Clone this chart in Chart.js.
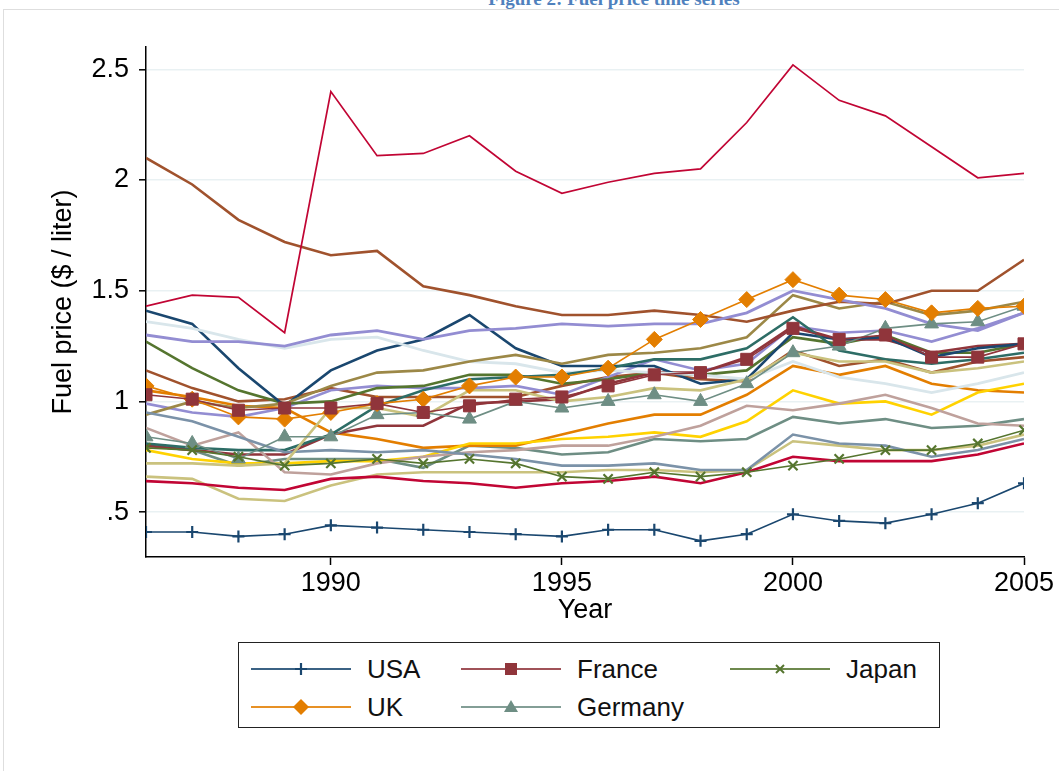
<!DOCTYPE html>
<html>
<head>
<meta charset="utf-8">
<script src="https://cdn.jsdelivr.net/npm/chart.js@4/dist/chart.umd.min.js"></script>
<style>
  html, body { margin: 0; padding: 0; background: #fff; }
  body { width: 1059px; height: 771px; position: relative; overflow: hidden; font-family: "Liberation Sans", Arial, sans-serif; }
  #frame { position: absolute; left: 3px; top: 9px; width: 1070px; height: 780px; border: 1px solid #dedede; }
  #fig-title { position: absolute; left: 0; width: 1228px; top: -11px; text-align: center; font: bold 19px "Liberation Serif", serif; color: #4f81bd; line-height: 19px; }
  #c { position: absolute; left: 0; top: 0; }
  #legend { position: absolute; left: 238px; top: 642px; width: 700px; height: 84px; border: 1.5px solid #222; }
  .item { position: absolute; height: 30px; }
  .item svg { position: absolute; left: 0; top: 3px; }
  .item span { position: absolute; top: 0; font-size: 26px; line-height: 30px; color: #111; white-space: nowrap; }
</style>
</head>
<body>
<div id="frame"></div>
<div id="fig-title">Figure 2: Fuel price time series</div>
<canvas id="c" width="1059" height="640"></canvas>
<div id="legend"></div>
<script>
// years and y-axis ticks
const years = [1986, 1987, 1988, 1989, 1990, 1991, 1992, 1993, 1994, 1995,
               1996, 1997, 1998, 1999, 2000, 2001, 2002, 2003, 2004, 2005];
const yearTicks = [1990, 1995, 2000, 2005];
const priceTicks = [0.5, 1, 1.5, 2, 2.5];

// labelled countries ($ / liter)
const usa     = [0.41,0.41,0.39,0.40,0.44,0.43,0.42,0.41,0.40,0.39,0.42,0.42,0.37,0.40,0.49,0.46,0.45,0.49,0.54,0.63];
const france  = [1.03,1.01,0.96,0.97,0.97,0.99,0.95,0.98,1.01,1.02,1.07,1.12,1.13,1.19,1.33,1.28,1.30,1.20,1.20,1.26];
const japan   = [0.79,0.78,0.75,0.71,0.72,0.74,0.72,0.74,0.72,0.66,0.65,0.68,0.66,0.68,0.71,0.74,0.78,0.78,0.81,0.87];
const uk      = [1.07,1.01,0.93,0.92,0.95,0.99,1.01,1.07,1.11,1.11,1.15,1.28,1.37,1.46,1.55,1.48,1.46,1.40,1.42,1.43];
const germany = [0.84,0.81,0.74,0.84,0.84,0.94,0.95,0.92,1.00,0.97,1.00,1.03,1.00,1.08,1.22,1.25,1.33,1.35,1.36,1.43];

// other countries (no legend entry), named by line colour
const cranberryHigh = [1.43,1.48,1.47,1.31,2.40,2.11,2.12,2.20,2.04,1.94,1.99,2.03,2.05,2.26,2.52,2.36,2.29,2.15,2.01,2.03];
const lavenderHigh  = [1.30,1.27,1.27,1.25,1.30,1.32,1.28,1.32,1.33,1.35,1.34,1.35,1.35,1.40,1.50,1.46,1.42,1.35,1.32,1.40];
const khakiJump     = [0.72,0.72,0.71,0.72,0.97,0.97,0.93,1.05,1.05,1.00,1.02,1.06,1.05,1.10,1.22,1.18,1.18,1.13,1.15,1.18];
const siennaHigh    = [2.10,1.98,1.82,1.72,1.66,1.68,1.52,1.48,1.43,1.39,1.39,1.41,1.39,1.36,1.41,1.45,1.44,1.50,1.50,1.64];
const emidblue      = [0.95,0.91,0.84,0.77,0.78,0.77,0.78,0.76,0.74,0.71,0.71,0.72,0.69,0.69,0.85,0.81,0.80,0.75,0.78,0.83];
const emerald       = [0.81,0.79,0.78,0.78,0.85,0.98,1.05,1.10,1.11,1.12,1.15,1.19,1.19,1.24,1.38,1.23,1.19,1.17,1.19,1.22];
const brown         = [0.94,1.00,0.97,0.99,1.07,1.13,1.14,1.18,1.21,1.17,1.21,1.22,1.24,1.29,1.48,1.42,1.45,1.39,1.41,1.45];
const erose         = [0.88,0.80,0.86,0.68,0.67,0.72,0.75,0.77,0.78,0.80,0.80,0.84,0.89,0.98,0.96,0.99,1.03,0.97,0.90,0.89];
const gold          = [0.78,0.74,0.72,0.72,0.73,0.73,0.75,0.81,0.81,0.83,0.84,0.86,0.84,0.91,1.05,0.99,1.00,0.94,1.04,1.08];
const bluishgray    = [1.36,1.33,1.28,1.24,1.28,1.29,1.23,1.18,1.17,1.13,1.14,1.13,1.12,1.10,1.18,1.11,1.08,1.04,1.08,1.13];
const navy2         = [1.41,1.35,1.15,0.98,1.14,1.23,1.28,1.39,1.24,1.16,1.16,1.16,1.08,1.10,1.31,1.28,1.29,1.20,1.24,1.26];
const maroon2       = [0.80,0.78,0.76,0.76,0.85,0.89,0.89,0.99,1.00,1.01,1.08,1.13,1.13,1.20,1.34,1.28,1.28,1.22,1.25,1.26];
const green2        = [1.27,1.15,1.05,0.99,1.00,1.06,1.07,1.12,1.12,1.08,1.10,1.13,1.12,1.14,1.29,1.26,1.30,1.22,1.22,1.26];
const orange2       = [1.05,1.02,0.98,0.97,0.86,0.83,0.79,0.80,0.80,0.85,0.90,0.94,0.94,1.03,1.16,1.12,1.16,1.08,1.05,1.04];
const teal2         = [0.80,0.78,0.71,0.74,0.74,0.74,0.70,0.80,0.79,0.76,0.77,0.83,0.82,0.83,0.93,0.90,0.92,0.88,0.89,0.92];
const cranberryLow  = [0.64,0.63,0.61,0.60,0.65,0.66,0.64,0.63,0.61,0.63,0.64,0.66,0.63,0.68,0.75,0.73,0.73,0.73,0.76,0.81];
const lavender2     = [0.99,0.95,0.93,0.97,1.05,1.07,1.06,1.06,1.07,1.03,1.11,1.19,1.14,1.17,1.34,1.31,1.32,1.27,1.33,1.40];
const khakiLow      = [0.66,0.65,0.56,0.55,0.62,0.67,0.68,0.68,0.68,0.68,0.69,0.69,0.68,0.69,0.82,0.80,0.78,0.78,0.80,0.85];
const sienna2       = [1.14,1.06,1.00,1.01,1.06,1.02,1.02,1.02,1.02,1.07,1.11,1.13,1.10,1.09,1.23,1.16,1.19,1.13,1.18,1.20];

// stata s2color palette
const C = {
  navy: "#1a476f", maroon: "#90353b", forest: "#55752f", dkorange: "#e37e00",
  teal: "#6e8e84", cranberry: "#c10534", lavender: "#938dd2", khaki: "#cac27e",
  sienna: "#a0522d", emidblue: "#7b92a8", emerald: "#2d6d66", brown: "#9c8847",
  erose: "#bfa19c", gold: "#ffd200", bluishgray: "#d9e6eb"
};

function series(label, vals, color, width, marker, radius) {
  return {
    label: label,
    data: years.map((yr, i) => ({ x: yr, y: vals[i] })),
    borderColor: color,
    backgroundColor: color,
    borderWidth: width,
    tension: 0,
    pointStyle: marker || "circle",
    pointRadius: marker ? radius : 0,
    pointBorderColor: color,
    pointBackgroundColor: color,
    pointBorderWidth: (marker === "cross" || marker === "crossRot") ? 2.2 : 1
  };
}

const datasets = [
  series("USA", usa, C.navy, 1.6, "cross", 6),
  series("France", france, C.maroon, 1.6, "rect", 8.5),
  series("Japan", japan, C.forest, 1.6, "crossRot", 6.5),
  series("UK", uk, C.dkorange, 1.6, "rectRot", 8),
  series("Germany", germany, C.teal, 1.6, "triangle", 8),
  series("c6", cranberryHigh, C.cranberry, 1.7),
  series("c7", lavenderHigh, C.lavender, 2.8),
  series("c8", khakiJump, C.khaki, 2.6),
  series("c9", siennaHigh, C.sienna, 2.6),
  series("c10", emidblue, C.emidblue, 2.6),
  series("c11", emerald, C.emerald, 2.6),
  series("c12", brown, C.brown, 2.6),
  series("c13", erose, C.erose, 2.6),
  series("c14", gold, C.gold, 2.6),
  series("c15", bluishgray, C.bluishgray, 2.8),
  series("c16", navy2, C.navy, 2.6),
  series("c17", maroon2, C.maroon, 2.6),
  series("c18", green2, C.forest, 2.6),
  series("c19", orange2, C.dkorange, 2.6),
  series("c20", teal2, C.teal, 2.6),
  series("c21", cranberryLow, C.cranberry, 2.6),
  series("c22", lavender2, C.lavender, 2.6),
  series("c23", khakiLow, C.khaki, 2.6),
  series("c24", sienna2, C.sienna, 2.6)
];

const font = { family: "'Liberation Sans', Arial, sans-serif", size: 27 };

new Chart(document.getElementById("c"), {
  type: "line",
  data: { datasets: datasets },
  options: {
    responsive: false,
    animation: false,
    layout: { padding: { left: 0, right: 35, top: 47, bottom: 0 } },
    plugins: { legend: { display: false }, tooltip: { enabled: false } },
    scales: {
      x: {
        type: "linear",
        min: 1986,
        max: 2005,
        afterBuildTicks: (s) => { s.ticks = yearTicks.map(v => ({ value: v })); },
        afterFit: (s) => { s.height = 83; },
        ticks: { font: font, color: "#000", padding: 2, maxRotation: 0, callback: (v) => String(v) },
        grid: { drawOnChartArea: false, tickLength: 8, tickColor: "#000", tickWidth: 1.5 },
        border: { color: "#000", width: 1.5 },
        title: { display: true, text: "Year", font: font, color: "#000", padding: { top: 0, bottom: 13 } }
      },
      y: {
        min: 0.297,
        max: 2.601,
        afterBuildTicks: (s) => { s.ticks = priceTicks.map(v => ({ value: v })); },
        afterFit: (s) => { s.width = 146; },
        ticks: {
          font: font, color: "#000", padding: 10,
          callback: (v) => (v < 1 ? String(v).replace(/^0/, "") : String(v))
        },
        grid: { color: "#e9f1f3", lineWidth: 1.6, tickLength: 7, tickColor: "#000", tickWidth: 1.5 },
        border: { color: "#000", width: 1.5 },
        title: { display: true, text: "Fuel price ($ / liter)", font: font, color: "#000", padding: { top: 47, bottom: 0 } }
      }
    }
  }
});

// legend (only the five labelled countries)
const legendItems = [
  { label: "USA", color: C.navy, marker: "plus", left: 12, top: 11 },
  { label: "France", color: C.maroon, marker: "square", left: 222, top: 11 },
  { label: "Japan", color: C.forest, marker: "x", left: 491, top: 11 },
  { label: "UK", color: C.dkorange, marker: "diamond", left: 12, top: 49 },
  { label: "Germany", color: C.teal, marker: "triangle", left: 222, top: 49 }
];
function markerSvg(m, c) {
  const cx = 50, cy = 12;
  if (m === "plus") return `<path d="M${cx-6} ${cy}H${cx+6}M${cx} ${cy-6}V${cy+6}" stroke="${c}" stroke-width="2.2"/>`;
  if (m === "square") return `<rect x="${cx-6}" y="${cy-6}" width="12" height="12" fill="${c}"/>`;
  if (m === "x") return `<path d="M${cx-4} ${cy-4}L${cx+4} ${cy+4}M${cx-4} ${cy+4}L${cx+4} ${cy-4}" stroke="${c}" stroke-width="2"/>`;
  if (m === "diamond") return `<path d="M${cx-8} ${cy}L${cx} ${cy-8}L${cx+8} ${cy}L${cx} ${cy+8}Z" fill="${c}"/>`;
  return `<path d="M${cx-7} ${cy+5}L${cx} ${cy-7}L${cx+7} ${cy+5}Z" fill="${c}"/>`;
}
const legend = document.getElementById("legend");
legendItems.forEach(it => {
  const d = document.createElement("div");
  d.className = "item";
  d.style.left = it.left + "px";
  d.style.top = it.top + "px";
  d.innerHTML = `<svg width="100" height="24"><line x1="0" y1="12" x2="100" y2="12" stroke="${it.color}" stroke-width="2" opacity="0.85"/>${markerSvg(it.marker, it.color)}</svg><span style="left:116px">${it.label}</span>`;
  legend.appendChild(d);
});
</script>
</body>
</html>
